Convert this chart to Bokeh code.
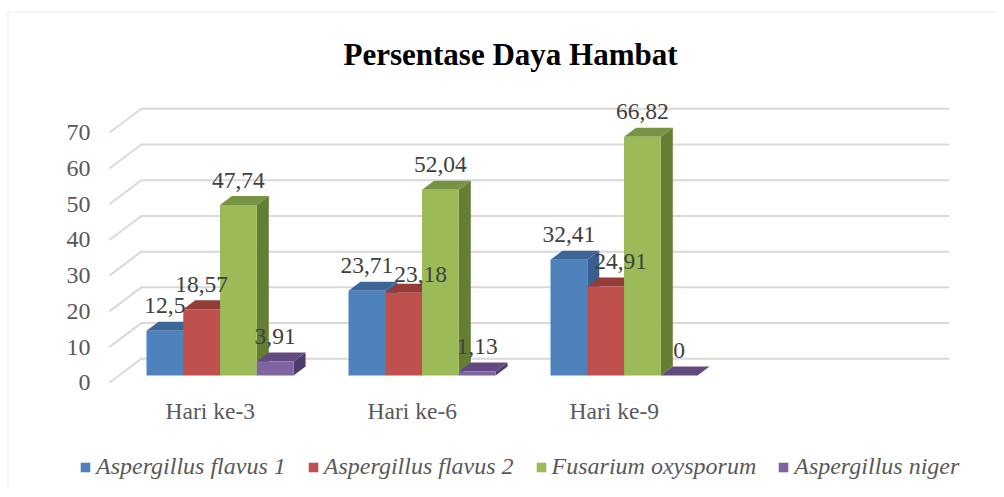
from bokeh.plotting import figure
from bokeh.models import (Range1d, Legend, LegendItem, BoxAnnotation)
from bokeh.embed import file_html
from bokeh.resources import INLINE
from bokeh.core.properties import value

# ---------------- data ----------------
title_text = "Persentase Daya Hambat"
categories = ["Hari ke-3", "Hari ke-6", "Hari ke-9"]
series_names = ["Aspergillus flavus 1", "Aspergillus flavus 2",
                "Fusarium oxysporum", "Aspergillus niger"]
aspergillus_flavus_1 = [12.5, 23.71, 32.41]
aspergillus_flavus_2 = [18.57, 23.18, 24.91]
fusarium_oxysporum = [47.74, 52.04, 66.82]
aspergillus_niger = [3.91, 1.13, 0]
y_ticks = [0, 10, 20, 30, 40, 50, 60, 70]

series_values = [aspergillus_flavus_1, aspergillus_flavus_2,
                 fusarium_oxysporum, aspergillus_niger]

# ---------------- style ----------------
front_colors = ["#4f81bd", "#c0504d", "#9bbb59", "#8064a2"]
top_colors = ["#3c6698", "#943c3a", "#779444", "#624a80"]
side_colors = ["#375f8f", "#7e302e", "#647f34", "#503c6a"]
grid_color = "#d9d9d9"
FONT = "Liberation Serif"

# manual label nudges (px right, px down) keyed by (series, category)
label_nudges = {(1, 1): (17, 7), (1, 2): (15, 0)}

# ---------------- geometry (page pixels) ----------------
PAGE_OFF = 1            # page position of the canvas origin
PX_X = 202.0            # px per category slot
PX_Y = 250.0 / 70.0     # px per value unit
N_SLOTS = 4             # plot has room for 4 category slots
DEPTH = (32.0, 24.0)    # oblique offset of back wall (px right, px up)
BAR_Z = (0.304, 0.679)  # bar front / back depth fraction
GROUP_W = 0.728         # group width in slot units
ORIGIN_X = 210.8        # page x of slot 0 centre (front plane)
ZERO_Y = 383.3          # page y of value 0 (front plane)
TEXT_FIX = 8.0          # renderer draws alphabetic baselines this much lower
CAT_BASELINE = 419.0    # page y of category label baseline
LABEL_GAP = 8.0         # px between bar top (back edge) and label baseline
TICK_RIGHT = 91.0       # page x of value-label right edge
TITLE_X, TITLE_BASE = 511.0, 63.0
W, H = 996, 489


def proj(z):
    return DEPTH[0] * z / PX_X, DEPTH[1] * z / PX_Y


def data_x(px):
    return (px - ORIGIN_X) / PX_X


def data_y(py):
    return (ZERO_Y - py) / PX_Y


p = figure(width=W, height=H,
           x_range=Range1d(data_x(PAGE_OFF), data_x(PAGE_OFF + W)),
           y_range=Range1d(data_y(PAGE_OFF + H), data_y(PAGE_OFF)),
           output_backend="svg", toolbar_location=None,
           x_axis_location=None, y_axis_location=None,
           min_border=0)
p.xgrid.visible = False
p.ygrid.visible = False
p.outline_line_color = None
p.background_fill_color = "white"
p.border_fill_color = "white"

# ---------------- walls / gridlines ----------------
dxw, dyw = proj(1.0)
left_edge = -0.5
right_edge = N_SLOTS - 0.5
gx, gy = [], []
for v in y_ticks:
    gx.append([left_edge, left_edge + dxw, right_edge + dxw])
    gy.append([v, v + dyw, v + dyw])
p.multi_line(gx, gy, line_color=grid_color, line_width=2)

# ---------------- 3D bars ----------------
n_series = len(series_values)
bw = GROUP_W / n_series
dx1, dy1 = proj(BAR_Z[0])
dx2, dy2 = proj(BAR_Z[1])
ddx, ddy = dx2 - dx1, dy2 - dy1

legend_items = []
lab_x, lab_y, lab_t = [], [], []
for j, vals in enumerate(series_values):
    lefts, rights, bottoms, tops = [], [], [], []
    top_xs, top_ys, side_xs, side_ys = [], [], [], []
    for i, v in enumerate(vals):
        xl = i - GROUP_W / 2 + j * bw + dx1
        xr = xl + bw
        yb = dy1
        yt = v + dy1
        lefts.append(xl); rights.append(xr); bottoms.append(yb); tops.append(yt)
        top_xs.append([xl, xr, xr + ddx, xl + ddx])
        top_ys.append([yt, yt, yt + ddy, yt + ddy])
        side_xs.append([xr, xr + ddx, xr + ddx, xr])
        side_ys.append([yb, yb + ddy, yt + ddy, yt])
        ndx, ndy = label_nudges.get((j, i), (0, 0))
        lab_x.append((xl + xr) / 2 + ndx / PX_X)
        lab_y.append(v + dy2 + (LABEL_GAP + TEXT_FIX - ndy) / PX_Y)
        lab_t.append(f"{v:g}".replace(".", ","))
    p.patches(side_xs, side_ys, fill_color=side_colors[j], line_color=None)
    p.patches(top_xs, top_ys, fill_color=top_colors[j], line_color=None)
    r = p.quad(left=lefts, right=rights, bottom=bottoms, top=tops,
               fill_color=front_colors[j], line_color=None)
    legend_items.append(LegendItem(label=series_names[j], renderers=[r]))

# data labels
p.text(lab_x, lab_y, text=lab_t, text_font=value(FONT),
       text_font_size="23.5px", text_color="#404040",
       text_align="center", text_baseline="alphabetic")

# category labels (front plane, below the floor)
p.text(list(range(len(categories))),
       [data_y(CAT_BASELINE - TEXT_FIX)] * len(categories),
       text=categories, text_font=value(FONT), text_font_size="23.5px",
       text_color="#595959", text_align="center", text_baseline="alphabetic")

# value-axis labels (front plane)
p.text([data_x(TICK_RIGHT)] * len(y_ticks), y_ticks,
       text=[str(t) for t in y_ticks], text_font=value(FONT),
       text_font_size="24px", text_color="#595959",
       text_align="right", text_baseline="middle")

# title
p.text([data_x(TITLE_X)], [data_y(TITLE_BASE - TEXT_FIX)], text=[title_text],
       text_font=value(FONT), text_font_style="bold", text_font_size="31px",
       text_color="#000000", text_align="center", text_baseline="alphabetic")

# ---------------- legend ----------------
legend = Legend(items=legend_items, orientation="horizontal",
                location=(79, 9),
                label_text_font=FONT, label_text_font_style="italic",
                label_text_font_size="24px", label_text_color="#595959",
                glyph_width=12, glyph_height=12, label_standoff=5,
                spacing=21, padding=0, margin=0,
                border_line_alpha=0, background_fill_alpha=0)
p.add_layout(legend)

# ---------------- chart border ----------------
border = BoxAnnotation(left=7.5, right=2000, top=11.5, bottom=2000,
                       left_units="canvas", right_units="canvas",
                       top_units="canvas", bottom_units="canvas",
                       fill_alpha=0, line_color=grid_color, line_width=2,
                       level="overlay")
p.add_layout(border)

open("out.html", "w").write(file_html(p, INLINE))
